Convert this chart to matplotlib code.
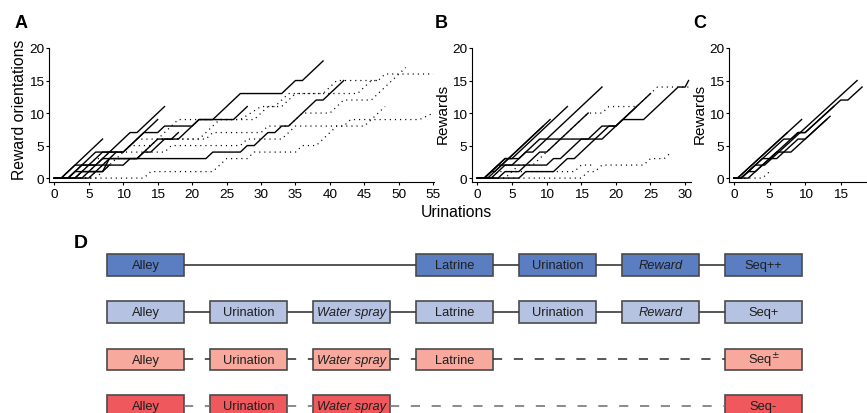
import matplotlib
matplotlib.use("Agg")
import matplotlib.pyplot as plt
from matplotlib.patches import Rectangle

plt.rcParams["font.family"] = ["Liberation Sans", "DejaVu Sans"]

W, H = 867, 414

# ---- panel A: reward orientations vs urinations, (x, y) vertices per animal
A_solid = [
    [(0, 0), (1, 0), (7, 6)],
    [(0, 0), (4, 0), (11, 7), (12, 7), (16, 11)],
    [(0, 0), (2, 0), (6, 4), (10, 4), (15, 9)],
    [(0, 0), (1, 0), (3, 2), (6, 2), (7, 3), (12, 3), (13, 4), (14, 4), (16, 6), (17, 6), (18, 7)],
    [(0, 0), (2, 0), (3, 1), (7, 1), (8, 2), (10, 2), (11, 3), (12, 3), (15, 6), (18, 6), (21, 9),
     (26, 9), (28, 11)],
    [(0, 0), (3, 0), (5, 2), (7, 2), (9, 4), (10, 4), (13, 7), (15, 7), (16, 8), (20, 8), (21, 9),
     (23, 9), (27, 13), (33, 13), (35, 15), (36, 15), (39, 18)],
    [(0, 0), (5, 0), (6, 1), (7, 1), (8, 3), (22, 3), (23, 4), (27, 4), (28, 5), (29, 5), (31, 7),
     (32, 7), (33, 8), (34, 8), (38, 12), (39, 12), (42, 15)],
    [(0, 0), (2, 0), (4, 2), (5, 2), (7, 4), (9, 4)],
    [(0, 0), (3, 0), (4, 1), (6, 1), (7, 2), (8, 2)],
]
A_dotted = [
    [(0, 0), (13, 0), (14, 1), (23, 1), (25, 3), (28, 3), (29, 4), (35, 4), (36, 5), (38, 5),
     (41, 8), (42, 8), (43, 9), (53, 9), (55, 10)],
    [(0, 0), (5, 0), (9, 4), (16, 4), (17, 5), (27, 5), (28, 6), (33, 6), (35, 8), (45, 8), (48, 11)],
    [(0, 0), (4, 0), (8, 4), (10, 4), (12, 6), (22, 6), (23, 7), (30, 7), (31, 8), (34, 8),
     (36, 10), (40, 10), (42, 12), (46, 12), (51, 17)],
    [(0, 0), (6, 0), (11, 5), (14, 5), (18, 9), (29, 9), (31, 11), (33, 11), (35, 13), (44, 13),
     (46, 15), (47, 15), (48, 16), (55, 16)],
    [(0, 0), (3, 0), (6, 3), (12, 3), (15, 6), (21, 6), (24, 9), (27, 9), (30, 11), (32, 11),
     (34, 13), (39, 13), (41, 15), (47, 15)],
]

# ---- panel B: rewards vs urinations
B_solid = [
    [(0, 0), (6, 0), (7, 1), (11, 1), (13, 3), (14, 3), (19, 8), (20, 8), (21, 9), (24, 9),
     (29, 14), (30, 14), (30.5, 15)],
    [(0, 0), (1, 0), (4, 3), (6, 3), (9, 6), (18, 6), (23, 11)],
    [(0, 0), (2, 0), (4, 2), (10, 2), (11, 3), (12, 3), (15, 6), (16, 6), (18, 8), (20, 8), (25, 13)],
    [(0, 0), (1, 0), (3, 2), (5, 2), (7, 4), (8, 4), (18, 14)],
    [(0, 0), (1, 0), (4, 3), (5, 3), (13, 11)],
    [(0, 0), (1.5, 0), (10.5, 9)],
    [(0, 0), (3, 0), (4, 1), (6, 1), (9, 4), (10, 4), (16, 10)],
    [(0, 0), (1, 0), (2, 1), (2.5, 1), (9.5, 8)],
]
B_dotted = [
    [(0, 0), (15, 0), (16, 1), (17, 1), (18, 2), (24, 2), (25, 3), (27, 3), (28, 4)],
    [(0, 0), (2, 0), (3, 1), (14, 1), (15, 2), (17, 2)],
    [(0, 0), (4, 0), (6, 2), (8, 2), (15, 9), (16, 10), (18, 10), (19, 11), (23, 11), (26, 14), (31, 14)],
]

# ---- panel C: rewards vs urinations
C_solid = [
    [(0, 0), (1, 0), (3, 2), (4.3, 2), (17.3, 15)],
    [(0, 0), (1, 0), (4, 3), (5, 3), (9, 7), (10, 7), (15, 12), (16, 12), (18, 14)],
    [(0, 0), (0.5, 0), (9.5, 9)],
    [(0, 0), (1, 0), (2, 1), (3, 1), (6, 4), (7, 4), (9, 6), (10, 6), (13.5, 9.5)],
    [(0, 0), (1, 0), (7, 6), (8, 6), (9, 7), (10, 7), (14, 11)],
    [(0, 0), (2, 0), (5, 3), (6, 3), (7, 4), (8, 4), (13, 9)],
    [(0, 0), (0.5, 0), (7.5, 7)],
]
C_dotted = [
    [(0, 0), (4, 0), (5, 1)],
]

A_xticks = [0, 5, 10, 15, 20, 25, 30, 35, 40, 45, 50, 55]
B_xticks = [0, 5, 10, 15, 20, 25, 30]
C_xticks = [0, 5, 10, 15]
y_ticks = [0, 5, 10, 15, 20]

# ---- panel D: behavioural sequences (column index, label)
seq_rows = [
    [(0, "Alley"), (3, "Latrine"), (4, "Urination"), (5, "Reward"), (6, "Seq++")],
    [(0, "Alley"), (1, "Urination"), (2, "Water spray"), (3, "Latrine"), (4, "Urination"),
     (5, "Reward"), (6, "Seq+")],
    [(0, "Alley"), (1, "Urination"), (2, "Water spray"), (3, "Latrine"), (6, "Seq$^{\\pm}$")],
    [(0, "Alley"), (1, "Urination"), (2, "Water spray"), (6, "Seq-")],
]
row_colors = ["#5b7ec2", "#b6c2e2", "#f7a99e", "#ef585c"]
row_dashed = [False, False, True, True]
italic_labels = ["Reward", "Water spray"]

fig = plt.figure(figsize=(W / 100, H / 100), dpi=100)

# diagram layer in pixel coordinates
axd = fig.add_axes([0, 0, 1, 1])
axd.set_xlim(0, W)
axd.set_ylim(H, 0)
axd.axis("off")

box_x0, box_dx, box_w, box_h = 107, 103, 77, 21.7
row_top = [255, 302, 349.5, 396]
for r, row in enumerate(seq_rows):
    top = row_top[r]
    yc = top + box_h / 2
    ls = (0, (5.5, 7)) if row_dashed[r] else "-"
    lc = "#777777" if r == 3 else "#3a3a3a"
    for (c0, _), (c1, _) in zip(row, row[1:]):
        x0 = box_x0 + c0 * box_dx + box_w
        x1 = box_x0 + c1 * box_dx
        axd.plot([x0, x1], [yc, yc], color=lc, lw=1.2, ls=ls, solid_capstyle="butt")
    for c, label in row:
        x = box_x0 + c * box_dx
        axd.add_patch(Rectangle((x, top), box_w, box_h, facecolor=row_colors[r],
                                edgecolor="#4a4a4a", lw=1.2, clip_on=False))
        style = "italic" if label in italic_labels else "normal"
        axd.text(x + box_w / 2, yc + 0.5, label, ha="center", va="center", fontsize=9.3,
                 style=style, color="#1e1e1e")

fig.text(74 / W, 1 - 244 / H, "D", fontsize=14, fontweight="bold", va="center")


def px_axes(left, top, right, bottom):
    return fig.add_axes([left / W, 1 - bottom / H, (right - left) / W, (bottom - top) / H])


def draw_panel(ax, solid, dotted, xlim, xticks):
    for line in dotted:
        xs, ys = zip(*line)
        ax.plot(xs, ys, color="black", lw=0.9, ls=(0, (0.9, 3.2)))
    for line in solid:
        xs, ys = zip(*line)
        ax.plot(xs, ys, color="black", lw=1.0)
    ax.set_xlim(*xlim)
    ax.set_ylim(-0.6, 20)
    ax.set_xticks(xticks)
    ax.set_yticks(y_ticks)
    for s in ("top", "right"):
        ax.spines[s].set_visible(False)
    for s in ("left", "bottom"):
        ax.spines[s].set_linewidth(0.8)
    ax.tick_params(direction="out", length=2.5, width=0.8, labelsize=9.7, pad=1.5)
    ax.tick_params(axis="y", pad=1.0)
    ax.patch.set_alpha(0)


axA = px_axes(49, 49, 434, 183)
draw_panel(axA, A_solid, A_dotted, (-0.77, 55.1), A_xticks)
axB = px_axes(472, 49, 691, 183)
draw_panel(axB, B_solid, B_dotted, (-0.77, 30.85), B_xticks)
axC = px_axes(729, 49, 866, 183)
draw_panel(axC, C_solid, C_dotted, (-0.7, 18.55), C_xticks)

fig.text(20 / W, 1 - 110 / H, "Reward orientations", rotation=90, ha="center", va="center",
         fontsize=11.3)
fig.text(443 / W, 1 - 114 / H, "Rewards", rotation=90, ha="center", va="center", fontsize=11)
fig.text(700 / W, 1 - 114 / H, "Rewards", rotation=90, ha="center", va="center", fontsize=11)
fig.text(456 / W, 1 - 213 / H, "Urinations", ha="center", va="center", fontsize=11.3)

for x, letter in [(15, "A"), (435, "B"), (693, "C")]:
    fig.text(x / W, 1 - 23 / H, letter, fontsize=13, fontweight="bold", va="center")

fig.savefig("out.png", dpi=100)
